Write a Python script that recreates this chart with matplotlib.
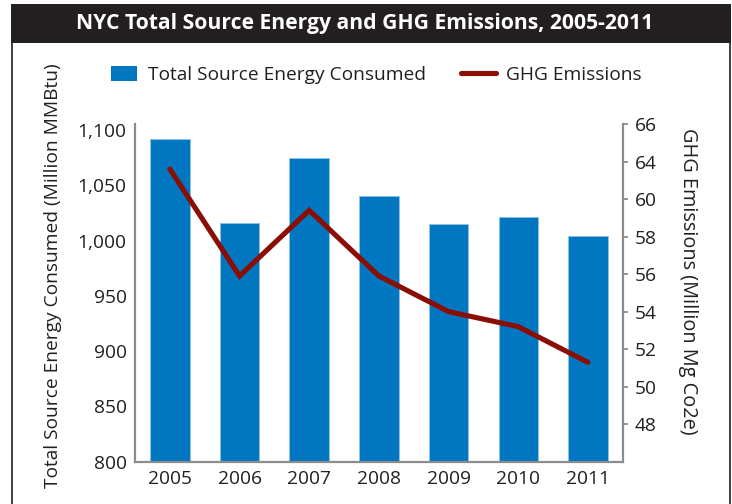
import matplotlib
matplotlib.use("Agg")
import matplotlib.pyplot as plt
from matplotlib.patches import Rectangle, Patch
from matplotlib.lines import Line2D
from matplotlib.ticker import FuncFormatter, FixedLocator, FixedFormatter

years = ["2005", "2006", "2007", "2008", "2009", "2010", "2011"]
energy = [1092, 1016, 1075, 1040, 1015, 1021, 1004]
ghg = [63.6, 57.9, 61.4, 57.9, 56.0, 55.2, 53.3]
left_ticks = [800, 850, 900, 950, 1000, 1050, 1100]
right_ticks = [50, 52, 54, 56, 58, 60, 62, 64, 66]
right_tick_labels = ["48", "50", "52", "54", "56", "58", "60", "64", "66"]

title = "NYC Total Source Energy and GHG Emissions, 2005-2011"
left_label = "Total Source Energy Consumed (Million MMBtu)"
right_label = "GHG Emissions (Million Mg Co2e)"
bar_name = "Total Source Energy Consumed"
line_name = "GHG Emissions"

W, H = 732, 504
plt.rcParams['font.family'] = ['Open Sans', 'DejaVu Sans']
TXT = '#231f20'
BLUE = '#0077c0'
RED = '#8b0e04'
GRAY = '#8c8c8c'
FS = 13.8

fig = plt.figure(figsize=(W / 100, H / 100), dpi=100)

def fx(px):
    return px / W

def fy(py):
    return 1 - py / H

# title bar and border
fig.patches.append(Rectangle((fx(11), fy(43)), fx(731) - fx(11), fy(4) - fy(43),
                             transform=fig.transFigure, facecolor='#231f20', edgecolor='none'))
fig.text(fx(365), fy(23.5), title, color='white', fontsize=15.2, fontweight='bold',
         ha='center', va='center')
fig.lines.append(Line2D([fx(12), fx(12)], [fy(43), 0], transform=fig.transFigure,
                        color='#231f20', lw=1.2))
fig.lines.append(Line2D([fx(729.5), fx(729.5)], [fy(43), 0], transform=fig.transFigure,
                        color='#231f20', lw=1.2))

ax = fig.add_axes([fx(135), fy(461.7), fx(622.7) - fx(135), fy(124) - fy(461.7)])
x = list(range(len(years)))
ax.bar(x, energy, width=0.565, color=BLUE, edgecolor='#8cc2e8', linewidth=0.7, zorder=2)
ax.set_xlim(-0.5, len(years) - 0.5)
ax.set_ylim(800, 1105.4)
ax.set_xticks(x)
ax.set_xticklabels(years)
ax.yaxis.set_major_locator(FixedLocator(left_ticks))
ax.yaxis.set_major_formatter(FuncFormatter(lambda v, p: f"{int(v):,}"))
ax.tick_params(axis='both', length=0, labelsize=FS, labelcolor=TXT)
ax.tick_params(axis='y', pad=6)
ax.tick_params(axis='x', pad=6)
for s in ['top', 'right']:
    ax.spines[s].set_visible(False)
for s in ['left', 'bottom']:
    ax.spines[s].set_color(GRAY)
    ax.spines[s].set_linewidth(1.6)

ax2 = ax.twinx()
ax2.plot(x, ghg, color=RED, lw=3.7, solid_capstyle='round', solid_joinstyle='miter', zorder=3)
ax2.set_ylim(48, 66)
ax2.yaxis.set_major_locator(FixedLocator(right_ticks))
ax2.yaxis.set_major_formatter(FixedFormatter(right_tick_labels))
ax2.tick_params(axis='y', length=3.5, width=1.3, color=GRAY, labelsize=FS,
                labelcolor=TXT, pad=5)
for s in ['top', 'left', 'bottom']:
    ax2.spines[s].set_visible(False)
ax2.spines['right'].set_color(GRAY)
ax2.spines['right'].set_linewidth(1.6)

fig.text(fx(53), fy(276), left_label, rotation=90, ha='center', va='center',
         fontsize=FS, color=TXT)
fig.text(fx(688), fy(281.5), right_label, rotation=270, ha='center', va='center',
         fontsize=14.3, color=TXT)

leg1 = fig.legend(handles=[Patch(facecolor=BLUE, edgecolor='none')], labels=[bar_name],
                  loc='center left', bbox_to_anchor=(fx(111), fy(75)), frameon=False,
                  fontsize=FS, handlelength=1.36, handleheight=0.88, handletextpad=0.55,
                  borderpad=0, borderaxespad=0, labelcolor=TXT)
leg2 = fig.legend(handles=[Line2D([], [], color=RED, lw=3.7, solid_capstyle='round')],
                  labels=[line_name], loc='center left', bbox_to_anchor=(fx(460.7), fy(75)),
                  frameon=False, fontsize=FS, handlelength=1.85, handletextpad=0.52,
                  borderpad=0, borderaxespad=0, labelcolor=TXT)

fig.savefig("out.png", dpi=100)
